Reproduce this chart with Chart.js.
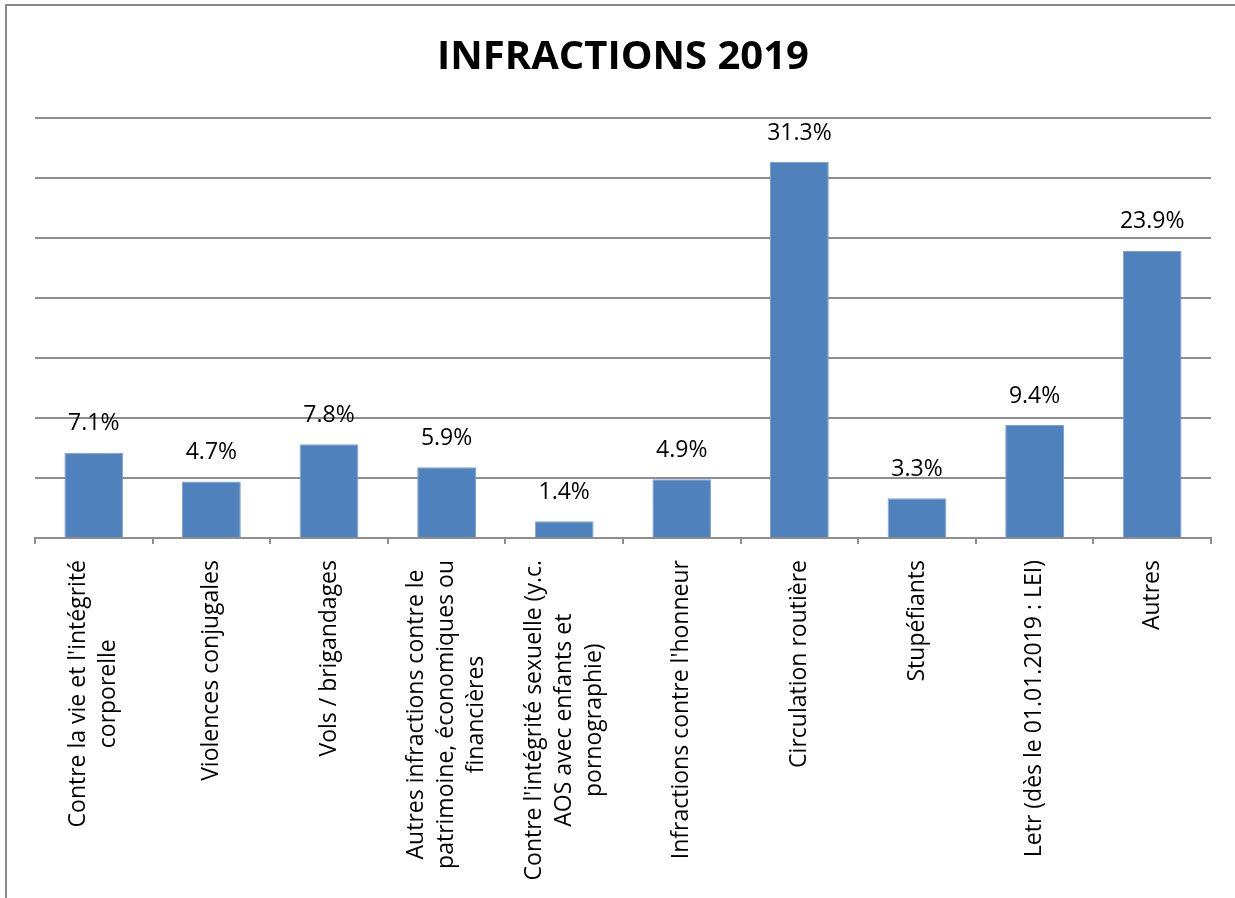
<!DOCTYPE html>
<html lang="fr">
<head>
<meta charset="utf-8">
<title>Infractions 2019</title>
<script src="https://cdn.jsdelivr.net/npm/chart.js@4"></script>
<style>
  html, body { margin: 0; padding: 0; background: #fff; }
  #wrap { width: 1235px; height: 898px; }
</style>
</head>
<body>
<div id="wrap"><canvas id="infractionsChart"></canvas></div>
<script>
/* global Chart */

const CATEGORIES = [
    ['Contre la vie et l\'intégrité', 'corporelle'],
    ['Violences conjugales'],
    ['Vols / brigandages'],
    ['Autres infractions contre le', 'patrimoine, économiques ou', 'financières'],
    ['Contre l\'intégrité sexuelle (y.c.', 'AOS avec enfants et', 'pornographie)'],
    ['Infractions contre l\'honneur'],
    ['Circulation routière'],
    ['Stupéfiants'],
    ['Letr (dès le 01.01.2019 : LEI)'],
    ['Autres'],
];
const PERCENTS = [7.1, 4.7, 7.8, 5.9, 1.4, 4.9, 31.3, 3.3, 9.4, 23.9];
const Y_MAX = 35;
const Y_STEP = 5;

const GRID = '#8e8e8e';
const FONT = '"Open Sans", "DejaVu Sans", sans-serif';

// frame round the chart (top + left edge only, the rest is cut off)
const frame = {
    id: 'frame',
    beforeDraw(chart) {
        const { ctx, width, height } = chart;
        ctx.save();
        ctx.fillStyle = '#fff';
        ctx.fillRect(0, 0, width, height);
        ctx.strokeStyle = '#8a8a8a';
        ctx.lineWidth = 2;
        ctx.beginPath();
        ctx.moveTo(6, height);
        ctx.lineTo(6, 5);
        ctx.lineTo(width, 5);
        ctx.stroke();
        ctx.restore();
    }
};

const valueLabels = {
    id: 'valueLabels',
    afterDatasetsDraw(chart) {
        const { ctx } = chart;
        ctx.save();
        ctx.font = `23px ${FONT}`;
        ctx.fillStyle = '#000';
        ctx.textAlign = 'center';
        ctx.textBaseline = 'middle';
        chart.getDatasetMeta(0).data.forEach((bar, i) => {
            ctx.fillText(PERCENTS[i].toFixed(1) + '%', bar.x, bar.y - 29);
        });
        ctx.restore();
    }
};

// rotated category labels, lines centred inside each block
const categoryLabels = {
    id: 'categoryLabels',
    afterDraw(chart) {
        const { ctx } = chart;
        const x = chart.scales.x;
        const lineH = 30;
        ctx.save();
        ctx.font = `23px ${FONT}`;
        ctx.fillStyle = '#000';
        ctx.textAlign = 'center';
        ctx.textBaseline = 'middle';
        CATEGORIES.forEach((lines, i) => {
            const w = Math.max(...lines.map(l => ctx.measureText(l).width));
            ctx.save();
            ctx.translate(x.getPixelForValue(i), x.top + 22 + w / 2);
            ctx.rotate(-Math.PI / 2);
            lines.forEach((l, j) => ctx.fillText(l, 0, (j - (lines.length - 1) / 2) * lineH));
            ctx.restore();
        });
        ctx.restore();
    }
};

new Chart(document.getElementById('infractionsChart'), {
    type: 'bar',
    data: {
        labels: CATEGORIES.map(l => l.join(' ')),
        datasets: [{
            data: PERCENTS,
            backgroundColor: '#4f81bd',
            borderColor: '#7ea3d2',
            borderWidth: 1,
            categoryPercentage: 1,
            barPercentage: 0.5,
        }]
    },
    options: {
        responsive: true,
        maintainAspectRatio: false,
        animation: false,
        events: [],
        layout: { padding: { left: 35, right: 24, top: 0, bottom: 0 } },
        scales: {
            x: {
                grid: { display: true, drawOnChartArea: false, offset: true, tickLength: 6, color: GRID, lineWidth: 2 },
                border: { display: true, color: GRID, width: 2 },
                ticks: { display: false },
                afterFit(scale) { scale.height = 360; }
            },
            y: {
                min: 0,
                max: Y_MAX,
                ticks: { display: false, stepSize: Y_STEP },
                grid: { color: GRID, lineWidth: 2, drawTicks: false },
                border: { display: false },
                afterFit(scale) { scale.width = 0; }
            }
        },
        plugins: {
            legend: { display: false },
            tooltip: { enabled: false },
            title: {
                display: true,
                text: 'INFRACTIONS 2019',
                color: '#000',
                font: { family: FONT, size: 40, weight: 'bold', lineHeight: 1.2 },
                padding: { top: 34, bottom: 35.6 }
            }
        }
    },
    plugins: [frame, valueLabels, categoryLabels]
});
</script>
</body>
</html>
